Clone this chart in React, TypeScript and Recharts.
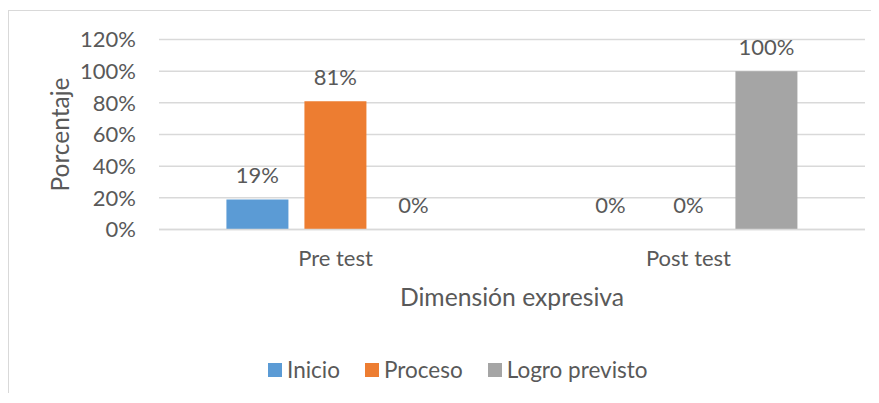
import React from "react";
import { BarChart, Bar, XAxis, YAxis, CartesianGrid, Legend, LabelList, Label } from "recharts";

const categories = ["Pre test", "Post test"];
const inicio = [0.19, 0];
const proceso = [0.81, 0];
const logro = [0, 1.0];
const yTicks = [0, 0.2, 0.4, 0.6, 0.8, 1.0, 1.2];
const seriesNames = ["Inicio", "Proceso", "Logro previsto"];
const colors = ["#5B9BD5", "#ED7D31", "#A5A5A5"];

const data = categories.map((c, i) => ({
  name: c,
  inicio: inicio[i],
  proceso: proceso[i],
  logro: logro[i],
}));

const FONT = "Lato, 'Liberation Sans', sans-serif";
const TXT = "#595959";
const pct = (v: number) => `${Math.round(v * 100)}%`;

const LegendContent = () => (
  <div style={{ display: "flex", alignItems: "center", paddingLeft: 259, height: 24, fontFamily: FONT, fontSize: 22.5, color: TXT }}>
    {seriesNames.map((n, i) => (
      <div key={n} style={{ display: "flex", alignItems: "center", marginRight: 25 }}>
        <div style={{ width: 14, height: 14, background: colors[i] }} />
        <span style={{ marginLeft: 5, lineHeight: "24px" }}>{n}</span>
      </div>
    ))}
  </div>
);

const YTitle = (props: any) => {
  const vb = props.viewBox || {};
  const cx = 50;
  const cy = vb.y + vb.height / 2;
  return (
    <text x={cx} y={cy} transform={`rotate(-90 ${cx} ${cy})`} textAnchor="middle" dominantBaseline="central" fill={TXT} fontFamily={FONT} fontSize={24.5}>
      Porcentaje
    </text>
  );
};

export default function App() {
  return (
    <div style={{ position: "relative", width: 870, height: 385, overflow: "hidden", background: "#fff" }}>
      <div style={{ position: "absolute", top: 2, left: 0, width: 900, height: 500, borderTop: "1px solid #D9D9D9", borderLeft: "1px solid #D9D9D9" }} />
      <div style={{ position: "absolute", top: 3, left: 1 }}>
        <BarChart
          width={869}
          height={382}
          data={data}
          margin={{ top: 28.5, right: 13, bottom: 11, left: 0 }}
          barGap={16}
          barCategoryGap="19.1%"
        >
          <CartesianGrid vertical={false} stroke="#D9D9D9" strokeWidth={1.5} />
          <XAxis
            dataKey="name"
            height={128.5}
            axisLine={{ stroke: "#D9D9D9", strokeWidth: 1.5 }}
            tickLine={false}
            tickSize={0}
            tickMargin={21}
            tick={{ fill: TXT, fontFamily: FONT, fontSize: 22 }}
          >
            <Label value="Dimensión expresiva" position="insideTop" offset={59} fill={TXT} fontFamily={FONT} fontSize={24.7} />
          </XAxis>
          <YAxis
            width={150}
            domain={[0, 1.2]}
            ticks={yTicks}
            tickFormatter={pct}
            axisLine={false}
            tickLine={false}
            tickSize={0}
            tickMargin={23}
            tick={{ fill: TXT, fontFamily: FONT, fontSize: 22 }}
          >
            <Label content={YTitle} />
          </YAxis>
          <Legend verticalAlign="bottom" content={LegendContent} />
          <Bar dataKey="inicio" name={seriesNames[0]} fill={colors[0]} minPointSize={0.01} isAnimationActive={false}>
            <LabelList dataKey="inicio" position="top" offset={16} formatter={pct} fill={TXT} fontFamily={FONT} fontSize={22} />
          </Bar>
          <Bar dataKey="proceso" name={seriesNames[1]} fill={colors[1]} minPointSize={0.01} isAnimationActive={false}>
            <LabelList dataKey="proceso" position="top" offset={16} formatter={pct} fill={TXT} fontFamily={FONT} fontSize={22} />
          </Bar>
          <Bar dataKey="logro" name={seriesNames[2]} fill={colors[2]} minPointSize={0.01} isAnimationActive={false}>
            <LabelList dataKey="logro" position="top" offset={16} formatter={pct} fill={TXT} fontFamily={FONT} fontSize={22} />
          </Bar>
        </BarChart>
      </div>
    </div>
  );
}
